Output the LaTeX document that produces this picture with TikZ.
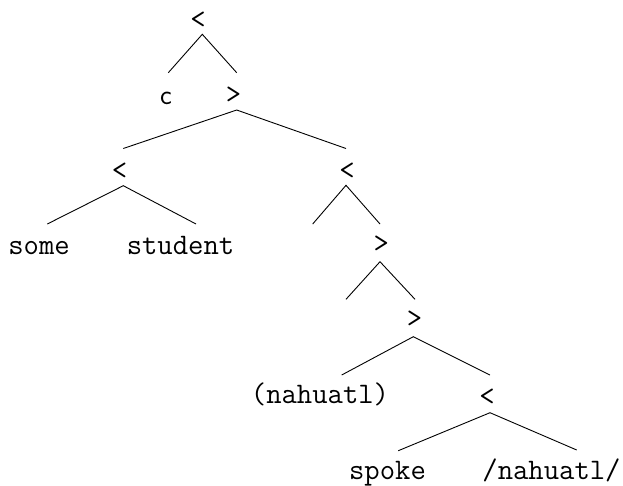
\documentclass[tikz,border=0pt]{standalone}
\usepackage{fontspec}
\tikzset{
  sym/.style={font=\ttfamily\fontsize{29.8}{34}\selectfont, inner sep=0pt, anchor=center},
  csym/.style={font=\sffamily\fontsize{28}{32}\selectfont, inner sep=0pt, anchor=center},
  leaf/.style={font=\ttfamily\fontsize{29.8}{34}\selectfont, inner sep=0pt, anchor=base},
  edge/.style={line width=0.9pt, black}
}
\begin{document}
\begin{tikzpicture}[x=1pt,y=-1pt]
\useasboundingbox (0,0) rectangle (623,485);
% nodes
\node[sym] (n0) at (198,20) {<};
\node[csym] (c) at (166,98.5) {c};
\node[sym] (n1) at (233.5,95) {>};
\node[sym] (n2) at (119.5,171.5) {<};
\node[sym] (n3) at (347,171) {<};
\node[sym] (n4) at (381.3,244.5) {>};
\node[sym] (n5) at (414.5,319.5) {>};
\node[sym] (n6) at (487,397) {<};
\node[leaf] (some) at (39,254.3) {some};
\node[leaf] (student) at (180.5,254.3) {student};
\node[leaf] (nah) at (320,403.3) {(nahuatl)};
\node[leaf] (spoke) at (387.5,479.3) {spoke};
\node[leaf] (nah2) at (551.5,479.3) {/nahuatl/};
% attachment points
\coordinate (n0b) at (202.3,34.3);
\coordinate (ct) at (168.3,72.7);
\coordinate (n1t) at (236.7,72.7);
\coordinate (n1b) at (236.7,110);
\coordinate (n2t) at (123.3,148.5);
\coordinate (n3t) at (346,148.5);
\coordinate (n2b) at (123.3,185.7);
\coordinate (somet) at (47.3,224);
\coordinate (studentt) at (196,224);
\coordinate (n3b) at (346,185.3);
\coordinate (e1) at (312.7,224);
\coordinate (n4t) at (380,224);
\coordinate (n4b) at (380,261.7);
\coordinate (e2) at (346,299.3);
\coordinate (n5t) at (415,299.3);
\coordinate (n5b) at (413.3,336.7);
\coordinate (naht) at (341.7,375);
\coordinate (n6t) at (490,375);
\coordinate (n6b) at (490,412.7);
\coordinate (spoket) at (398.3,450.7);
\coordinate (nah2t) at (576.7,450);
% edges
\draw[edge] (ct) -- (n0b) -- (n1t);
\draw[edge] (n2t) -- (n1b) -- (n3t);
\draw[edge] (somet) -- (n2b) -- (studentt);
\draw[edge] (e1) -- (n3b) -- (n4t);
\draw[edge] (e2) -- (n4b) -- (n5t);
\draw[edge] (naht) -- (n5b) -- (n6t);
\draw[edge] (spoket) -- (n6b) -- (nah2t);
\end{tikzpicture}
\end{document}
